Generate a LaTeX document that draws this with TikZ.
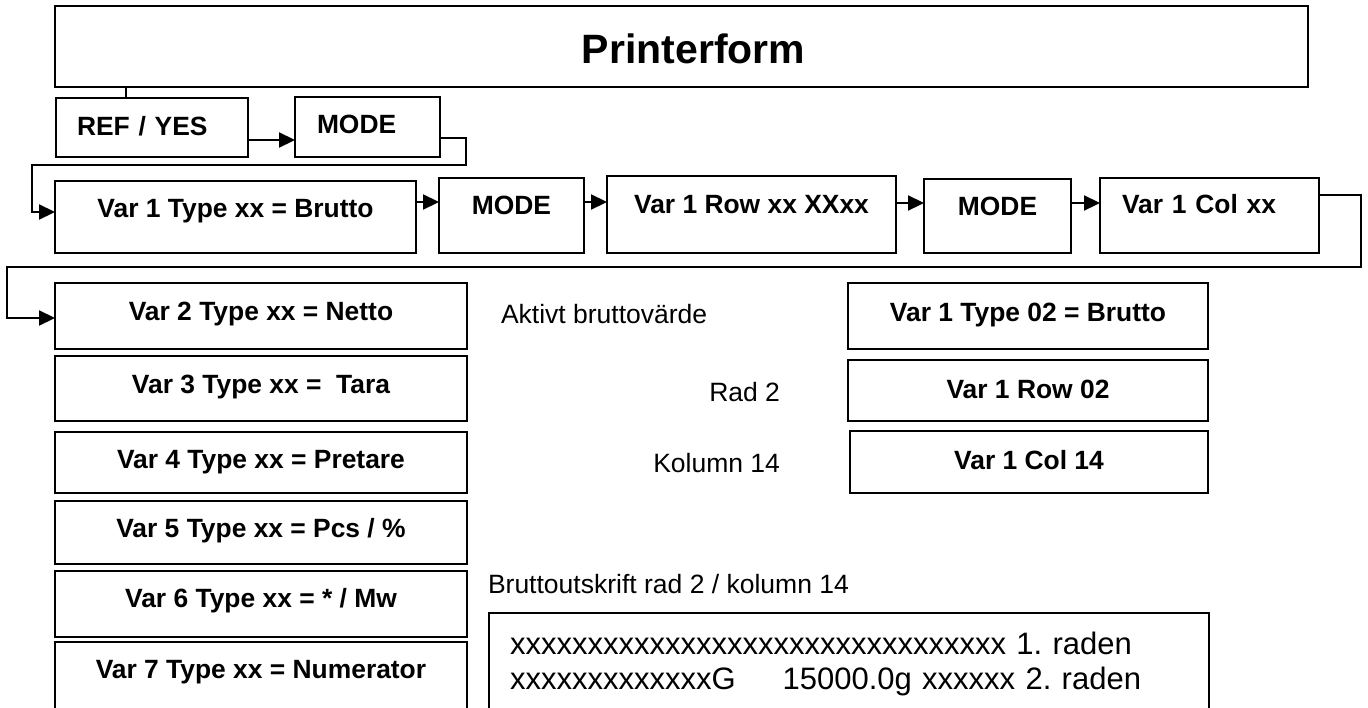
\documentclass[tikz,border=0pt]{standalone}
\usepackage{fontspec}
\setmainfont{Liberation Sans}
\usetikzlibrary{arrows.meta}
\frenchspacing
\begin{document}
\begin{tikzpicture}[x=1pt,y=-1pt,
  every node/.style={inner sep=0pt, outer sep=0pt},
  bx/.style={draw, line width=2pt, anchor=north west, font=\bfseries\fontsize{26.4}{30}\selectfont},
  bxo/.style={anchor=north west, font=\bfseries\fontsize{26.4}{30}\selectfont},
  lbl/.style={font=\fontsize{26.5}{30}\selectfont},
  conn/.style={line width=2.2pt},
  arr/.style={conn, -{Triangle[length=16pt,width=15pt]}}]
\useasboundingbox (0,0) rectangle (1368,707);

% title
\node[bx, line width=2.4pt, minimum width=1253, text height=57pt, text depth=24pt,
      font=\bfseries\fontsize{41}{48}\selectfont] (title) at (55,6) {\hspace*{24pt}Printerform};

% first row
\node[bx, align=left, inner xsep=21pt, text width=150pt, text height=37pt, text depth=22pt] (ref) at (56,98) {REF / YES};
\node[bx, align=left, inner xsep=22pt, text width=101pt, text height=36pt, text depth=24pt] (mode1) at (295,97) {MODE};

% second row
\node[bx, minimum width=361, text height=36pt, text depth=36pt] (brutto) at (55,181) {Var 1 Type xx = Brutto};
\node[bx, minimum width=145, text height=36pt, text depth=39pt] (mode2) at (439,178) {MODE};
\node[bx, minimum width=289, text height=37pt, text depth=40pt] (row) at (607,176) {Var 1 Row xx XXxx};
\node[bx, minimum width=147, text height=36pt, text depth=38pt] (mode3) at (924,179) {MODE};
\node[bx, align=left, inner xsep=22pt, text width=175pt, text height=35pt, text depth=40pt] (col) at (1100,178) {Var 1 Col xx};

% left column
\node[bx, minimum width=412, text height=37pt, text depth=29pt] (var2) at (55,283) {Var 2 Type xx = Netto};
\node[bx, minimum width=412, text height=37pt, text depth=28pt] (var3) at (55,356) {Var 3 Type xx =~ Tara};
\node[bx, minimum width=412, text height=36pt, text depth=25pt] (var4) at (55,432) {Var 4 Type xx = Pretare};
\node[bx, minimum width=412, text height=36pt, text depth=27pt] (var5) at (55,501) {Var 5 Type xx = Pcs / \%};
\node[bx, minimum width=412, text height=36pt, text depth=30pt] (var6) at (55,571) {Var 6 Type xx = * / Mw};
\node[bxo, minimum width=412, text height=36pt, text depth=80pt] (var7) at (55,642) {Var 7 Type xx = Numerator};
\draw[line width=2pt] (var7.south west) -- (var7.north west) -- (var7.north east) -- (var7.south east);

% right examples
\node[bx, minimum width=360, text height=38pt, text depth=28pt] (t02) at (848,283) {Var 1 Type 02 = Brutto};
\node[bx, minimum width=360, text height=38pt, text depth=23pt] (r02) at (848,360) {Var 1 Row 02};
\node[bx, minimum width=358, text height=38pt, text depth=24pt] (c14) at (850,431) {Var 1 Col 14};

% plain labels
\node[lbl, anchor=base west] (akt) at (501,323) {Aktivt bruttovärde};
\node[lbl, anchor=base east] (rad) at (780,401) {Rad 2};
\node[lbl, anchor=base east] (kol) at (780,472) {Kolumn 14};
\node[lbl, anchor=base west] (bo) at (488,593) {Bruttoutskrift rad 2 / kolumn 14};

% print-out box
\node[anchor=north west, align=left, inner xsep=21pt, text width=678pt, text height=41pt, text depth=60pt,
      font=\fontsize{31}{35}\selectfont] (out) at (489,613)
  {xxxxxxxxxxxxxxxxxxxxxxxxxxxxxxxx 1. raden\\xxxxxxxxxxxxxG\hspace{47pt}15000.0g xxxxxx 2. raden};
\draw[line width=2pt] (out.south west) -- (out.north west) -- (out.north east) -- (out.south east);

% connectors
\draw[conn] (ref.north -| 126,0) -- (title.south -| 126,0);
\draw[arr] (ref.east |- 0,140) -- (mode1.west |- 0,140);
\draw[arr] (mode1.east |- 0,138) -| (466,165) -| (32,212) -- (brutto.west |- 0,212);
\draw[arr] (brutto.east |- 0,202) -- (mode2.west |- 0,202);
\draw[arr] (mode2.east |- 0,202) -- (row.west |- 0,202);
\draw[arr] (row.east |- 0,203) -- (mode3.west |- 0,203);
\draw[arr] (mode3.east |- 0,203) -- (col.west |- 0,203);
\draw[arr] (col.east |- 0,195) -| (1361,267) -| (7,318) -- (var2.west |- 0,318);
\end{tikzpicture}
\end{document}
